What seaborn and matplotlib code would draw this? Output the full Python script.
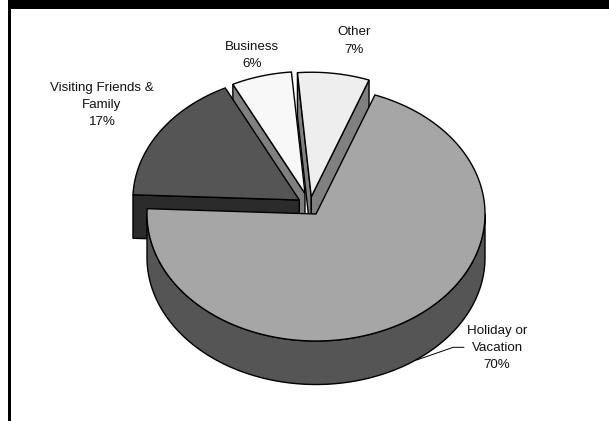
import numpy as np
import matplotlib
matplotlib.use("Agg")
import matplotlib.pyplot as plt
from matplotlib.patches import Polygon, Rectangle
import seaborn as sns

# Purpose of trip, percent of travellers
trip_labels = ["Holiday or\nVacation", "Visiting Friends &\nFamily", "Business", "Other"]
trip_shares = [70, 17, 6, 7]

# Colours per slice: top face and side walls
face_colors = sns.color_palette(["#a6a6a6", "#555555", "#f8f8f8", "#eeeeee"])
wall_colors = sns.color_palette(["#555555", "#2b2b2b", "#808080", "#808080"])

# Pie projection, in pixels
CENTER = (316.0, 214.0)
RX, RY = 169.0, 127.0
DEPTH = 43.5
START_ANGLE = 20.4

# Pulled-out slices: apex position and radius factor
slice_apex = [CENTER, (299.3, 200.0), (305.0, 193.5), (311.3, 196.7)]
slice_scale = [1.0, 0.985, 0.96, 0.98]

# Label centres
label_pos = [(497, 348), (102, 105), (252, 55.5), (354, 41)]

sns.set_theme(style="white", rc={"font.family": ["Liberation Sans", "DejaVu Sans"]})
fig = plt.figure(figsize=(6.09, 4.21), dpi=100, facecolor="white")
ax = fig.add_axes([0, 0, 1, 1])
ax.set_xlim(0, 609)
ax.set_ylim(421, 0)
ax.axis("off")

# Heavy frame along the top and left
ax.add_patch(Rectangle((8, 0), 601, 9, fc="black", ec="none"))
ax.add_patch(Rectangle((8, 0), 3, 421, fc="black", ec="none"))


def arc_points(apex, scale, a0, a1):
    """Points on the projected rim, angles clockwise from twelve o'clock."""
    t = np.radians(np.linspace(a0, a1, 200))
    return np.column_stack([apex[0] + RX * scale * np.sin(t),
                            apex[1] - RY * scale * np.cos(t)])


def extrude(points, color, z):
    """Wall hanging below a run of top-face points."""
    lower = points[::-1] + np.array([0, DEPTH])
    ax.add_patch(Polygon(np.vstack([points, lower]), closed=True, fc=color,
                         ec="black", lw=1.0, zorder=z, joinstyle="miter"))


spans = np.array(trip_shares) * 3.6
starts = START_ANGLE + np.concatenate([[0], np.cumsum(spans)[:-1]])

# Paint back to front, with the large slice last
for z, i in zip([2, 3, 4, 5], [3, 2, 1, 0]):
    a0, a1 = starts[i], starts[i] + spans[i]
    apex = slice_apex[i]
    rim = arc_points(apex, slice_scale[i], a0, a1)
    apex_pt = np.array([apex])
    # Radial walls, only where they turn towards the viewer
    if np.sin(np.radians(a0)) < 0:
        extrude(np.vstack([apex_pt, rim[:1]]), wall_colors[i], z)
    if np.sin(np.radians(a1)) > 0:
        extrude(np.vstack([apex_pt, rim[-1:]]), wall_colors[i], z)
    # Outer wall on the part of the rim facing the viewer
    lo, hi = max(a0, 90), min(a1, 270)
    if hi > lo:
        extrude(arc_points(apex, slice_scale[i], lo, hi), wall_colors[i], z)
    ax.add_patch(Polygon(np.vstack([apex_pt, rim]), closed=True, fc=face_colors[i],
                         ec="black", lw=1.0, zorder=z + 0.5, joinstyle="miter"))

# Leader line for the large slice
ax.plot([416.7, 453.3, 464], [360, 347.3, 347.3], color="black", lw=0.7, zorder=6)

for label, share, (x, y) in zip(trip_labels, trip_shares, label_pos):
    ax.text(x, y, f"{label}\n{share}%", ha="center", va="center", fontsize=9.6,
            color="#111111", linespacing=1.58, zorder=7)

fig.savefig("out.png", dpi=100, facecolor="white")
